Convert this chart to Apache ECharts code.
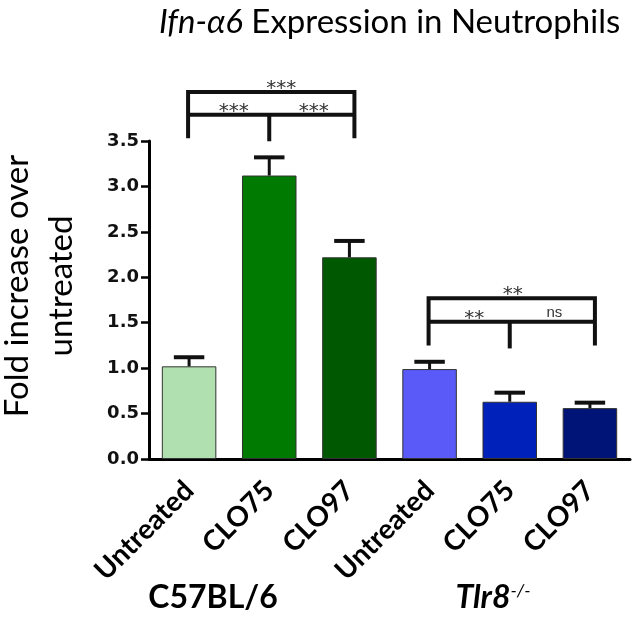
<!DOCTYPE html>
<html><head><meta charset="utf-8">
<script src="https://cdn.jsdelivr.net/npm/echarts@6/dist/echarts.min.js"></script>
<style>html,body{margin:0;padding:0;background:#fff}#c{width:637px;height:620px}</style>
</head><body><div id="c"></div>
<script>
const categories = ['Untreated', 'CLO75', 'CLO97', 'Untreated', 'CLO75', 'CLO97'];
const foldValues = [1.02, 3.12, 2.22, 0.99, 0.63, 0.56];
const errorValues = [0.10, 0.20, 0.18, 0.08, 0.10, 0.06];
const barColors = ['#b0e0b0', '#007a00', '#005800', '#5a5af8', '#0022bb', '#001478'];
const yTicks = [0, 0.5, 1.0, 1.5, 2.0, 2.5, 3.0, 3.5];
const groupNames = ['C57BL/6', 'Tlr8'];
// brackets: [leftIdx, midIdx, rightIdx, topLineY, lowerLineY, legBottomY]
const brackets = [[0, 1, 2, 4.04, 3.79, 3.53], [3, 4, 5, 1.77, 1.51, 1.25]];
const bracketTopLabels = ['***', '**'];
const bracketLeftLabels = ['***', '**'];
const bracketRightLabels = ['***', 'ns'];

const chart = echarts.init(document.getElementById('c'));
const ink = '#111';
chart.setOption({
  animation: false,
  backgroundColor: '#fff',
  title: {
    text: '{i|Ifn-α6} Expression in Neutrophils',
    left: 154, top: 1,
    textStyle: {
      fontFamily: 'Lato', fontSize: 33, fontWeight: 'normal', color: '#000',
      rich: { i: { fontFamily: 'Lato', fontSize: 33, fontStyle: 'italic', color: '#000' } }
    }
  },
  grid: { left: 149, right: 7, top: 141, bottom: 161, containLabel: false },
  xAxis: {
    type: 'category', data: categories,
    axisLine: { lineStyle: { color: '#000', width: 3 } },
    axisTick: { show: false },
    axisLabel: { interval: 0, rotate: 45, margin: 27, fontFamily: 'Lato', fontWeight: 'bold', fontSize: 28, color: '#000' }
  },
  yAxis: {
    type: 'value', min: yTicks[0], max: yTicks[yTicks.length - 1], interval: 0.5,
    axisLine: { show: true, lineStyle: { color: '#000', width: 3 } },
    axisTick: { show: true, length: 8, lineStyle: { color: '#000', width: 2.5 } },
    axisLabel: { margin: 10, formatter: v => v.toFixed(1), fontFamily: 'DejaVu Sans', fontWeight: 'bold', fontSize: 18, color: '#111' },
    splitLine: { show: false }
  },
  graphic: [
    { type: 'text', x: 39, y: 286, rotation: Math.PI / 2,
      style: { text: 'Fold increase over\nuntreated', fontFamily: 'Lato', fontSize: 33, lineHeight: 44, fill: '#000', align: 'center', verticalAlign: 'middle' } },
    { type: 'text', x: 213, y: 598,
      style: { text: groupNames[0], fontFamily: 'Lato', fontWeight: 'bold', fontSize: 32, fill: '#000', align: 'center', verticalAlign: 'middle' } },
    { type: 'text', x: 493, y: 598,
      style: { text: '{t|' + groupNames[1] + '}{s|-/-}', align: 'center', verticalAlign: 'middle',
        rich: {
          t: { fontFamily: 'Lato', fontWeight: 'bold', fontStyle: 'italic', fontSize: 32, fill: '#000', color: '#000' },
          s: { fontFamily: 'Lato', fontStyle: 'italic', fontSize: 18, color: '#000', verticalAlign: 'top', padding: [0, 0, 14, 0] }
        } } }
  ],
  series: [
    {
      type: 'bar', barWidth: '68%',
      data: foldValues.map((v, i) => ({ value: v, itemStyle: { color: barColors[i] } })),
      itemStyle: { borderColor: '#333', borderWidth: 1 }
    },
    {
      type: 'custom', clip: false, z: 5,
      data: foldValues.map((v, i) => [i, v, v + errorValues[i]]),
      encode: { x: 0, y: [1, 2] },
      renderItem(params, api) {
        const i = api.value(0);
        const b = api.coord([i, api.value(1)]);
        const t = api.coord([i, api.value(2)]);
        const half = api.size([1, 0])[0] * 0.19;
        return { type: 'group', children: [
          { type: 'line', shape: { x1: b[0], y1: b[1], x2: t[0], y2: t[1] }, style: { stroke: ink, lineWidth: 3 } },
          { type: 'line', shape: { x1: t[0] - half, y1: t[1], x2: t[0] + half, y2: t[1] }, style: { stroke: ink, lineWidth: 4 } }
        ] };
      }
    },
    {
      type: 'custom', clip: false, z: 5,
      data: brackets,
      encode: { x: [0, 1, 2], y: [3, 4, 5] },
      renderItem(params, api) {
        const k = params.dataIndex;
        const L = api.coord([api.value(0), api.value(3)]);
        const M = api.coord([api.value(1), api.value(4)]);
        const R = api.coord([api.value(2), api.value(3)]);
        const lowY = api.coord([api.value(0), api.value(4)])[1];
        const legY = api.coord([api.value(0), api.value(5)])[1];
        const xl = L[0] - 1, xr = R[0] + 5, xm = M[0];
        const topY = L[1];
        const st = { stroke: ink, lineWidth: 4 };
        const txt = (x, y, s) => ({ type: 'text', x: x, y: y,
          style: { text: s, fontFamily: s === 'ns' ? 'Liberation Sans' : 'DejaVu Sans', fontSize: s === 'ns' ? 15 : 20, fill: '#333', align: 'center', verticalAlign: 'bottom' } });
        return { type: 'group', children: [
          { type: 'polyline', shape: { points: [[xl, legY], [xl, topY], [xr, topY], [xr, legY]] }, style: Object.assign({ fill: null }, st) },
          { type: 'line', shape: { x1: xl, y1: lowY, x2: xr, y2: lowY }, style: st },
          { type: 'line', shape: { x1: xm, y1: lowY, x2: xm, y2: legY + 3 }, style: st },
          txt((xl + xr) / 2 + (k === 0 ? 10 : 1), topY + 7, bracketTopLabels[k]),
          txt((xl + xm) / 2 + 5, lowY + 7, bracketLeftLabels[k]),
          txt((xm + xr) / 2 + 2, bracketRightLabels[k] === 'ns' ? lowY - 1 : lowY + 7, bracketRightLabels[k])
        ] };
      }
    }
  ]
});
</script></body></html>
